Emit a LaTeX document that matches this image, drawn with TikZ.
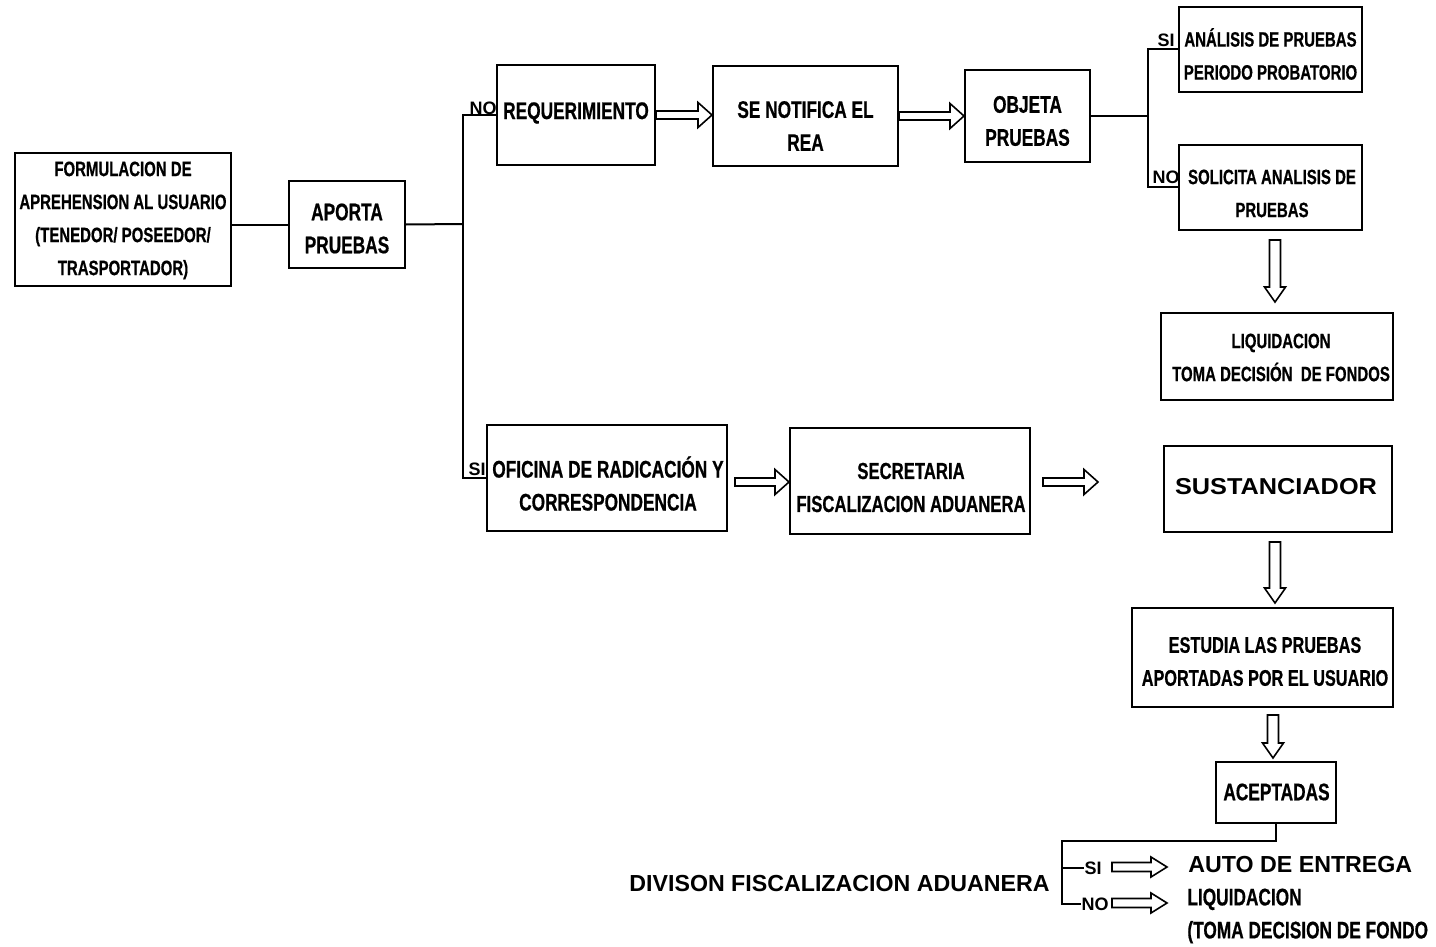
\documentclass[tikz,border=0pt]{standalone}
\usepackage{fontspec}
\setmainfont{Liberation Sans}
\newfontfamily\nb[FakeStretch=0.72,FakeBold=0.6]{Liberation Sans}
\newfontfamily\wb[FakeStretch=1.1]{Liberation Sans}
\usetikzlibrary{calc}
\tikzset{
  box/.style={draw, line width=1pt, inner sep=0pt},
  sz/.style 2 args={minimum width=#1*0.5pt, minimum height=#2*0.5pt},
  txt/.style={inner sep=0pt, align=center, font=\nb\bfseries\fontsize{12}{16.5}\selectfont},
  txts/.style={inner sep=0pt, align=center, font=\nb\bfseries\fontsize{10.4}{16.5}\selectfont},
  lbl/.style={inner sep=0pt, font=\bfseries\fontsize{9}{10}\selectfont},
  wide/.style={inner sep=0pt, font=\bfseries\fontsize{11.6}{14}\selectfont},
  conn/.style={line width=1pt},
  hollow/.style n args={3}{draw, line width=0.8pt, line join=miter, to path={let \p1=(\tikztostart), \p2=(\tikztotarget), \n1={atan2(\y2-\y1,\x2-\x1)} in
    ($(\p1)+({\n1+90}:#1)$) -- ($(\p2)+({\n1+180}:#3)+({\n1+90}:#1)$) -- ($(\p2)+({\n1+180}:#3)+({\n1+90}:#2)$) -- (\p2) -- ($(\p2)+({\n1+180}:#3)+({\n1-90}:#2)$) -- ($(\p2)+({\n1+180}:#3)+({\n1-90}:#1)$) -- ($(\p1)+({\n1-90}:#1)$) -- cycle}},
  harrow/.style={hollow={2pt}{6.25pt}{7pt}},
  varrow/.style={hollow={2.75pt}{5.25pt}{7.5pt}},
  barrow/.style={hollow={2.25pt}{5pt}{8pt}},
}
\begin{document}
\begin{tikzpicture}[x=0.5pt,y=-0.5pt]
\useasboundingbox (0,0) rectangle (1436,947);
% boxes
\node[box, sz={216}{133}] (form) at (123,219.5) {};
\node[txts] (form-t) at (123,220.5) {FORMULACION DE\\APREHENSION AL USUARIO\\(TENEDOR/ POSEEDOR/\\TRASPORTADOR)};
\node[box, sz={116}{87}] (aporta) at (347,224.5) {};
\node[txt] (aporta-t) at (347,228.5) {APORTA\\PRUEBAS};
\node[box, sz={158}{100}] (req) at (576,115) {};
\node[txt] (req-t) at (576,113) {REQUERIMIENTO};
\node[box, sz={185}{100}] (notif) at (805.5,116) {};
\node[txt] (notif-t) at (805.5,126) {SE NOTIFICA EL\\REA};
\node[box, sz={125}{92}] (objeta) at (1027.5,116) {};
\node[txt] (objeta-t) at (1027.5,121) {OBJETA\\PRUEBAS};
\node[box, sz={183}{85}] (ana) at (1270.5,49.5) {};
\node[txts] (ana-t) at (1270.5,54) {ANÁLISIS DE PRUEBAS\\PERIODO PROBATORIO};
\node[box, sz={183}{85}] (sol) at (1270.5,187.5) {};
\node[txts] (sol-t) at (1272,193.5) {SOLICITA ANALISIS DE\\PRUEBAS};
\node[box, sz={232}{87}] (liq) at (1277,356.5) {};
\node[txts] (liq-t) at (1281,357.5) {LIQUIDACION\\TOMA DECISIÓN\ \ DE FONDOS};
\node[box, sz={240}{106}] (ofi) at (607,478) {};
\node[txt] (ofi-t) at (608,483.5) {OFICINA DE RADICACIÓN Y\\CORRESPONDENCIA};
\node[box, sz={240}{106}] (sec) at (910,481) {};
\node[txt, font=\nb\bfseries\fontsize{11.6}{16.5}\selectfont] (sec-t) at (911,487.5) {SECRETARIA\\FISCALIZACION ADUANERA};
\node[box, sz={228}{86}] (sust) at (1278,489) {};
\node[inner sep=0pt, font=\wb\bfseries\fontsize{11.5}{14}\selectfont] (sust-t) at (1276,487) {SUSTANCIADOR};
\node[box, sz={261}{99}] (est) at (1262.5,657.5) {};
\node[txt, font=\nb\bfseries\fontsize{11.3}{16.5}\selectfont] (est-t) at (1265,661.5) {ESTUDIA LAS PRUEBAS\\APORTADAS POR EL USUARIO};
\node[box, sz={120}{61}] (acep) at (1276,792.5) {};
\node[txt] (acep-t) at (1276.5,792) {ACEPTADAS};
% branch labels
\node[lbl] (no1) at (483,108) {NO};
\node[lbl] (si1) at (477,469) {SI};
\node[lbl] (si2) at (1166,40) {SI};
\node[lbl] (no2) at (1166,177) {NO};
\node[lbl] (si3) at (1093,868) {SI};
\node[lbl] (no3) at (1095,904) {NO};
% bottom texts
\node[wide, anchor=east] (div) at (1050,884) {DIVISON FISCALIZACION ADUANERA};
\node[wide, anchor=west] (auto) at (1188,865) {AUTO DE ENTREGA};
\node[inner sep=0pt, anchor=west, align=left, font=\nb\bfseries\fontsize{12}{16.5}\selectfont] (liqb) at (1187,916) {LIQUIDACION\\(TOMA DECISION DE FONDO};
% connectors
\coordinate (j1) at (463,224);
\coordinate (j2) at (1148,116);
\draw[conn] (aporta.west -| form.east) -- (aporta.west);
\draw[conn] (aporta.east) -- (j1);
\draw[conn] (req.west) -| (j1) |- (ofi.west);
\draw[conn] (objeta.east) -- (j2);
\draw[conn] (ana.west) -| (j2) |- (sol.west);
\coordinate (b1) at (1062,841);
\draw[conn] (acep.south) |- (b1) |- (no3.west);
\draw[conn] (si3.west -| b1) -- (si3.west);
% hollow arrows
\draw[harrow] (req.east) to (notif.west |- req.east);
\draw[harrow] (notif.east) to (objeta.west |- notif.east);
\coordinate (oa) at (735,482);
\draw[harrow] (oa) to (oa -| sec.west);
\coordinate (sa) at (1043,482);
\coordinate (sb) at (1098,482);
\draw[harrow] (sa) to (sb);
\coordinate (va1) at (1275,240);
\coordinate (vb1) at (1275,302);
\draw[varrow] (va1) to (vb1);
\coordinate (va2) at (1275,542);
\coordinate (vb2) at (1275,603);
\draw[varrow] (va2) to (vb2);
\coordinate (va3) at (1273,715);
\coordinate (vb3) at (1273,758);
\draw[varrow] (va3) to (vb3);
\coordinate (ba1) at (1112,867);
\coordinate (bb1) at (1167,867);
\draw[barrow] (ba1) to (bb1);
\coordinate (ba2) at (1112,903);
\coordinate (bb2) at (1167,903);
\draw[barrow] (ba2) to (bb2);
\end{tikzpicture}
\end{document}
